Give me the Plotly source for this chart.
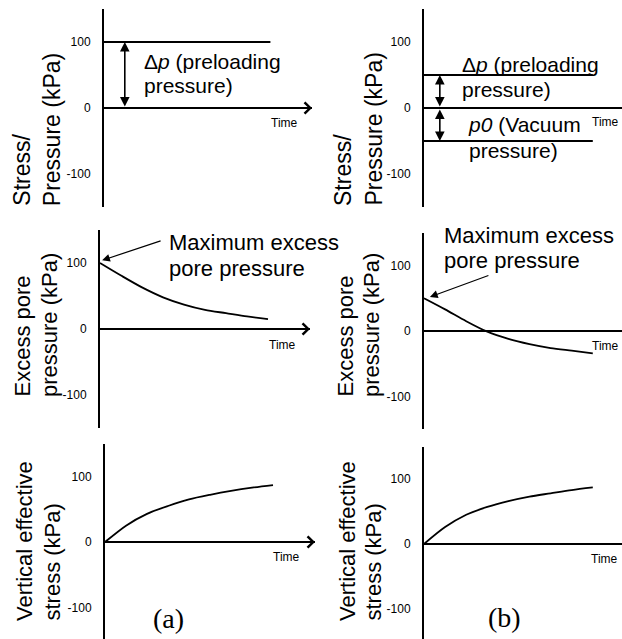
import plotly.graph_objects as go

W, H = 622, 639

# ---------------- data ----------------
time_pts = [0, 1, 2, 3, 4, 5, 6, 7, 8]
load_time = [0, 8]
preload_a = [100, 100]
preload_b = [50, 50]
vacuum_b = [-50, -50]
excess_a = [100, 81, 63, 48, 37, 29, 24, 19, 15]
excess_b = [50, 33, 15, -1, -12, -20, -26, -30, -34]
effective_a = [0, 25, 43, 55, 65, 72, 78, 83, 87]
effective_b = [0, 26, 45, 57, 66, 73, 78, 83, 87]
y_ticks = [-100, 0, 100]
y_tick_text = ["-100", "0", "100"]
panel_labels = ["(a)", "(b)"]
row_titles = [["Stress/", "Pressure (kPa)"],
              ["Excess pore", "pressure (kPa)"],
              ["Vertical effective", "stress (kPa)"]]
time_label = "Time"

FONT = "Liberation Sans, Arial, sans-serif"
SERIF = "Liberation Serif, Times New Roman, serif"

# panel geometry (pixels): y-axis x position, px per time unit, zero line y, px per kPa
geom = [
    (104, 20.8, 108, 0.66),
    (424, 21.1, 108, 0.66),
    (100, 21.0, 329, 0.66),
    (424, 21.1, 331, 0.655),
    (105, 21.0, 542, 0.655),
    (424, 21.1, 544, 0.65),
]

fig = go.Figure()
layout = dict(width=W, height=H, margin=dict(l=0, r=0, t=0, b=0),
              paper_bgcolor="white", plot_bgcolor="white", showlegend=False,
              font=dict(family=FONT, color="black"))
ann = []

def names(i):
    s = "" if i == 0 else str(i + 1)
    return "x" + s, "y" + s, "xaxis" + s, "yaxis" + s

for i, (ax0, ppt, z, s) in enumerate(geom):
    xn, yn, xk, yk = names(i)
    xr = min(ax0 + 10 * ppt, W)
    xmax = (xr - ax0) / ppt
    ytop = z - 150 * s
    ybot = min(z + 150 * s, H)
    ymin = -(ybot - z) / s
    layout[xk] = dict(domain=[ax0 / W, xr / W], range=[0, xmax], anchor=yn,
                      showline=False, showgrid=False, zeroline=False,
                      showticklabels=False, ticks="")
    layout[yk] = dict(domain=[1 - ybot / H, 1 - ytop / H], range=[ymin, 150], anchor=xn,
                      showline=True, linecolor="black", linewidth=2,
                      showgrid=False, zeroline=True, zerolinecolor="black", zerolinewidth=2,
                      tickvals=y_ticks, ticktext=y_tick_text, ticks="outside",
                      ticklen=9, tickcolor="rgba(0,0,0,0)",
                      tickfont=dict(size=12, family=FONT, color="black"))
    if i % 2 == 0:
        ann.append(dict(x=10, y=0, ax=9.3, ay=0, xref=xn, yref=yn, axref=xn, ayref=yn,
                        text="", showarrow=True, arrowhead=4, arrowsize=1.1,
                        arrowwidth=2, arrowcolor="black", font=dict(size=1)))

line = dict(color="black", width=1.8, shape="spline", smoothing=0.8)
flat = dict(color="black", width=1.8)
fig.add_trace(go.Scatter(x=load_time, y=preload_a, mode="lines", line=flat, xaxis="x", yaxis="y"))
fig.add_trace(go.Scatter(x=load_time, y=preload_b, mode="lines", line=flat, xaxis="x2", yaxis="y2"))
fig.add_trace(go.Scatter(x=load_time, y=vacuum_b, mode="lines", line=flat, xaxis="x2", yaxis="y2"))
fig.add_trace(go.Scatter(x=time_pts, y=excess_a, mode="lines", line=line, xaxis="x3", yaxis="y3"))
fig.add_trace(go.Scatter(x=time_pts, y=excess_b, mode="lines", line=line, xaxis="x4", yaxis="y4"))
fig.add_trace(go.Scatter(x=time_pts, y=effective_a, mode="lines", line=line, xaxis="x5", yaxis="y5"))
fig.add_trace(go.Scatter(x=time_pts, y=effective_b, mode="lines", line=line, xaxis="x6", yaxis="y6"))

# double-headed arrows in top panels
def dbl(xn, yn, t, y0, y1):
    ann.append(dict(x=t, y=y1, ax=t, ay=y0, xref=xn, yref=yn, axref=xn, ayref=yn,
                    text="", showarrow=True, arrowhead=2, startarrowhead=2,
                    arrowside="end+start", arrowsize=1.2, startarrowsize=1.2,
                    arrowwidth=1.6, arrowcolor="black", font=dict(size=1)))

dbl("x", "y", 1.0, 0, preload_a[0])
dbl("x2", "y2", 0.75, 0, preload_b[0])
dbl("x2", "y2", 0.75, 0, vacuum_b[0])

# arrows to maximum excess pore pressure
ann.append(dict(x=0.1, y=excess_a[0] + 4, xref="x3", yref="y3", ax=60, ay=-20,
                text="", showarrow=True, arrowhead=2, arrowsize=1.3, arrowwidth=1.2,
                arrowcolor="black", font=dict(size=1)))
ann.append(dict(x=0.28, y=excess_b[0] + 2, xref="x4", yref="y4", ax=60, ay=-22,
                text="", showarrow=True, arrowhead=2, arrowsize=1.3, arrowwidth=1.2,
                arrowcolor="black", font=dict(size=1)))

def txt(text, xp, yp, size=22, xanchor="left", yanchor="middle", family=FONT, angle=0):
    ann.append(dict(text=text, x=xp / W, y=1 - yp / H, xref="paper", yref="paper",
                    xanchor=xanchor, yanchor=yanchor, showarrow=False, textangle=angle,
                    borderpad=0, font=dict(size=size, family=family, color="black")))

# annotation texts
txt("Δ<i>p</i> (preloading", 143, 61, size=21)
txt("pressure)", 143, 86, size=21)
txt("Δ<i>p</i> (preloading", 461, 64, size=21)
txt("pressure)", 461, 89, size=21)
txt("<i>p0</i> (Vacuum", 467, 125, size=21)
txt("pressure)", 468, 150, size=21)
txt("Maximum excess", 168, 243)
txt("pore pressure", 168, 268)
txt("Maximum excess", 443, 235)
txt("pore pressure", 443, 260)

# time labels
for (xp, yp) in [(284, 123), (605, 122), (282, 345), (605, 346), (286, 557), (604, 559)]:
    txt(time_label, xp, yp, size=12, xanchor="center")

# y-axis titles (rotated, left aligned)
title_pos = [
    ((21.7, 51.7), (343, 373), 207, 23),
    ((22, 49), (345, 371), 398, 22),
    ((24, 52), (347, 373), 622, 22),
]
for r, (lx, rx, yb, fs) in enumerate(title_pos):
    for k in range(2):
        txt(row_titles[r][k], lx[k], yb, size=fs, xanchor="center", yanchor="bottom", angle=-90)
        txt(row_titles[r][k], rx[k], yb, size=fs, xanchor="center", yanchor="bottom", angle=-90)

txt(panel_labels[0], 168, 618, size=28, xanchor="center", family=SERIF)
txt(panel_labels[1], 504, 617, size=28, xanchor="center", family=SERIF)

layout["annotations"] = ann
fig.update_layout(**layout)
fig.write_html("out.html")
